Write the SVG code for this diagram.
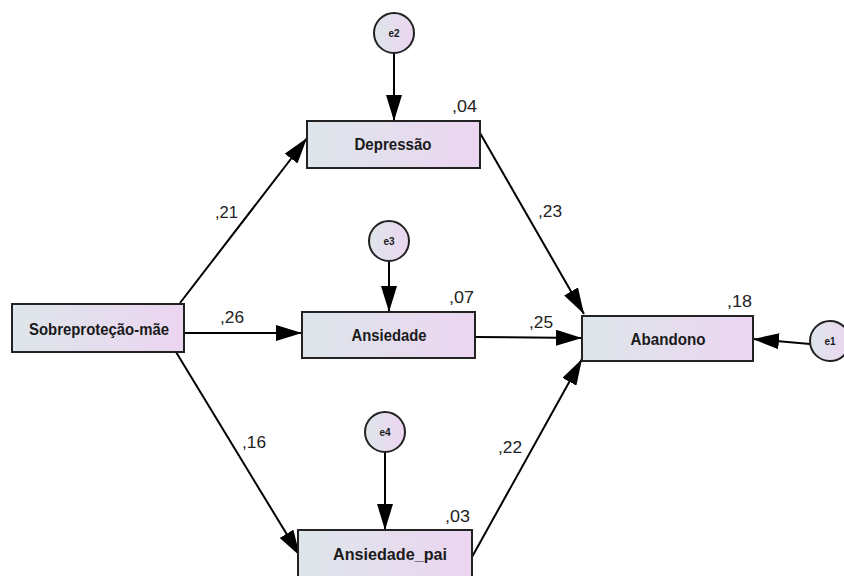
<svg xmlns="http://www.w3.org/2000/svg" width="844" height="576" viewBox="0 0 844 576">
<style>
.box{fill:url(#g);stroke:#222;stroke-width:2}
.circ{fill:url(#g);stroke:#222;stroke-width:2}
.lbl{font-family:"Liberation Sans",Arial,sans-serif;font-weight:bold;font-size:17px;fill:#1a1a1a;text-anchor:middle}
.elbl{font-family:"Liberation Sans",Arial,sans-serif;font-weight:bold;font-size:10px;fill:#1a1a1a;text-anchor:middle}
.num{font-family:"Liberation Sans",Arial,sans-serif;font-size:17px;fill:#222}
.conn line{stroke:#000;stroke-width:2;marker-end:url(#ah)}
</style>
<defs>
<linearGradient id="g" x1="0" y1="0" x2="1" y2="0">
<stop offset="0" stop-color="#dde6ea"/>
<stop offset="1" stop-color="#ecd5f1"/>
</linearGradient>
<marker id="ah" markerUnits="userSpaceOnUse" markerWidth="26" markerHeight="16" refX="26" refY="8" orient="auto">
<path d="M0,0 L26,8 L0,16 z" fill="#000"/>
</marker>
</defs>
<rect width="844" height="576" fill="#fff"/>
<g class="conn">
<line x1="180" y1="303" x2="307" y2="138"/>
<line x1="184" y1="333" x2="302" y2="333"/>
<line x1="176" y1="352" x2="300" y2="556"/>
<line x1="480" y1="133" x2="584" y2="314"/>
<line x1="475" y1="337" x2="582" y2="338"/>
<line x1="472" y1="557" x2="582" y2="359"/>
<line x1="810" y1="344" x2="753" y2="339"/>
<line x1="394" y1="53" x2="394" y2="121"/>
<line x1="389" y1="261" x2="389" y2="312"/>
<line x1="385" y1="452" x2="385" y2="530"/>
</g>
<g id="sobreprotecao">
<rect class="box" x="12" y="304" width="172" height="48"/>
<text class="lbl" x="99" y="335" textLength="140" lengthAdjust="spacingAndGlyphs">Sobreproteção-mãe</text>
</g>
<g id="depressao">
<rect class="box" x="307" y="121" width="173" height="47"/>
<text class="lbl" x="393" y="150" textLength="77" lengthAdjust="spacingAndGlyphs">Depressão</text>
<text class="num" x="452" y="112" textLength="25" lengthAdjust="spacingAndGlyphs">,04</text>
</g>
<g id="ansiedade">
<rect class="box" x="302" y="312" width="173" height="46"/>
<text class="lbl" x="389" y="341" textLength="75" lengthAdjust="spacingAndGlyphs">Ansiedade</text>
<text class="num" x="449" y="303" textLength="25" lengthAdjust="spacingAndGlyphs">,07</text>
</g>
<g id="ansiedade_pai">
<rect class="box" x="298" y="530" width="174" height="47"/>
<text class="lbl" x="390" y="560" textLength="114" lengthAdjust="spacingAndGlyphs">Ansiedade_pai</text>
<text class="num" x="445" y="522" textLength="25" lengthAdjust="spacingAndGlyphs">,03</text>
</g>
<g id="abandono">
<rect class="box" x="582" y="316" width="171" height="45"/>
<text class="lbl" x="668" y="345" textLength="75" lengthAdjust="spacingAndGlyphs">Abandono</text>
<text class="num" x="727" y="307" textLength="25" lengthAdjust="spacingAndGlyphs">,18</text>
</g>
<g id="e1">
<circle class="circ" cx="830" cy="341" r="20"/>
<text class="elbl" x="830" y="345">e1</text>
</g>
<g id="e2">
<circle class="circ" cx="394" cy="33" r="20"/>
<text class="elbl" x="394" y="37">e2</text>
</g>
<g id="e3">
<circle class="circ" cx="389" cy="241" r="20"/>
<text class="elbl" x="389" y="245">e3</text>
</g>
<g id="e4">
<circle class="circ" cx="385" cy="432" r="20"/>
<text class="elbl" x="385" y="436">e4</text>
</g>
<g id="path-labels">
<text class="num" x="215" y="218" textLength="23" lengthAdjust="spacingAndGlyphs">,21</text>
<text class="num" x="220" y="323" textLength="24" lengthAdjust="spacingAndGlyphs">,26</text>
<text class="num" x="242" y="448" textLength="24" lengthAdjust="spacingAndGlyphs">,16</text>
<text class="num" x="538" y="217" textLength="24" lengthAdjust="spacingAndGlyphs">,23</text>
<text class="num" x="529" y="328" textLength="24" lengthAdjust="spacingAndGlyphs">,25</text>
<text class="num" x="498" y="453" textLength="24" lengthAdjust="spacingAndGlyphs">,22</text>
</g>
</svg>
